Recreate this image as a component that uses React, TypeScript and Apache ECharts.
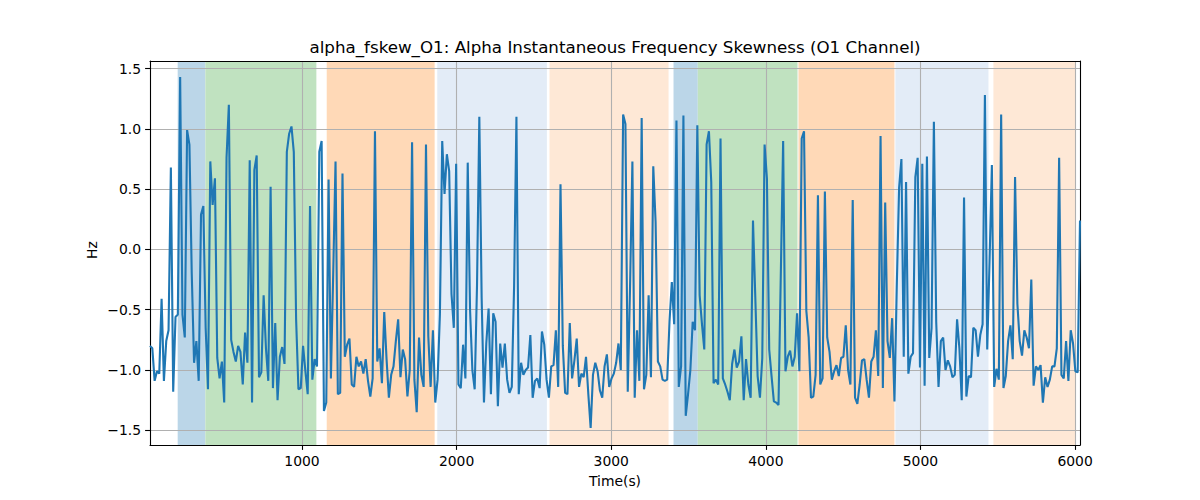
import React, { useEffect, useRef } from 'react';
import * as echarts from 'echarts';

// Sample grid: first sample time and spacing (seconds)
const startTime = 17;
const timeStep = 15;

// Alpha instantaneous frequency skewness, O1 channel (Hz)
const fskewValues: number[] = [
  -0.80, -0.82, -1.09, -1.01, -1.03, -0.41, -1.09, -0.76, -0.67, 0.68,
  -1.18, -0.56, -0.54, 1.43, -0.54, -0.73, 0.99, 0.87, -0.2, -0.94,
  -0.76, -1.09, 0.29, 0.36, -0.65, -1.16, 0.73, 0.37, 0.59, -0.90,
  -1.07, -0.93, -1.27, 0.76, 1.20, -0.75, -0.85, -0.93, -0.80, -0.85,
  -1.12, -0.69, -0.94, 0.74, -1.27, 0.66, 0.78, -1.06, -1.02, -0.38,
  -0.82, -1.09, 0.52, -1.15, -0.61, -1.25, -0.89, -0.81, -0.95, 0.81,
  0.96, 1.02, 0.81, -0.58, -1.16, -1.15, -0.80,
  -1.01, -1.20, 0.36, -1.08, -0.91, -0.97, 0.81, 0.90, -1.34, -1.27,
  0.58, -1.07, -0.2, 0.73, -1.20, -1.19, 0.63, -0.89, -0.79, -0.74,
  -1.12, -1.14, -0.89, -0.97, -0.93, -1.03, -0.91, -1.09, -1.22, -1.07,
  0.98, -0.93, -0.82, -1.11, -0.52, -0.91, -1.23, -1.04, -0.97, -0.76,
  -0.58, -1.06, -0.83, -0.91, -1.22, -1.0, 0.89, -1.08, -1.35, -0.73,
  -1.04, -1.14, 0.87, -0.72, -1.14, -0.67, -1.27, -1.08, -0.54, 0.90,
  0.46, 0.79, 0.65, -0.37, -0.65, 0.71, -1.12, -1.15, -0.79,
  -1.07, 0.72, -0.5, -1.0, -1.16, -0.3, 1.10, -0.4, -1.27, -0.78,
  -0.49, -1.20, -0.53, -0.60, -1.30, -0.78, -0.98, -0.78, -1.08, -1.19,
  -1.14, -0.3, 1.10, -1.20, -0.94, -1.04, -1.0, -0.98, -0.71, -1.23,
  -1.09, -1.07, -1.15, -0.68, -0.79, -1.08, -1.23, -0.97, -0.96, -0.67,
  -1.14, 0.54, -0.8, -1.19, -1.20, -0.61, -1.07, -0.92, -0.74, -1.14,
  -1.03, -1.06, -0.89, -1.2, -1.48, -1.04, -0.94, -1.01, -1.17, -1.23,
  -0.97, -0.87, -1.14, -1.07, -1.03, -0.94, -0.78,
  -1.0, 1.12, 1.04, -1.18, -0.3, 0.73, -1.23, -0.67, -1.09, 1.09,
  -1.16, -1.04, -0.38, -1.06, 0.69, 0.23, -0.93, -0.97, -1.08, -1.09,
  -1.08, -0.6, -0.27, -0.62, 1.07, -1.14, -0.97, 1.11, -1.38, -1.2,
  -1.0, -0.60, -0.67, 1.03, -0.38, -0.62, -0.83, 0.87, 0.98, 0.56,
  -1.11, -1.08, -1.12, 0.92, -1.07, -1.12, -1.18, -1.25, -0.95, -0.83,
  -0.98, -0.93, -0.72, -1.25, -0.91, -1.12, -1.23, 0.24, -0.4, -1.05,
  -1.23, -0.9, 0.87, 0.59, -0.83, -1.05, -1.26,
  -1.27, -1.29, -0.2, 0.90, -1.01, -0.89, -0.84, -0.97, -0.89, -0.53,
  -1.01, 0.92, 0.98, -0.51, -0.73, -1.23, -1.22, -1.04, 0.45, -1.12,
  -1.07, 0.48, -0.73, -0.85, -1.08, -1.01, -0.96, -1.05, -0.90, -0.89,
  -0.63, -1.0, -1.12, 0.41, -1.23, -1.28, -1.12, -0.92, -0.91, -1.08,
  -1.23, -0.93, -0.89, -0.67, -1.05, 0.94, -1.15, 0.39, -0.76, -0.90,
  -0.57, -1.26, -0.3, 0.51, 0.75, -0.89, 0.56, -1.03, -0.89, -0.86,
  0.60, 0.76, -0.98, 0.71, -1.13, 0.77, -0.90,
  -0.65, 1.06, -0.6, -1.14, -0.76, -0.73, -1.0, -0.92, -0.97, -1.06,
  -1.04, -0.58, -0.82, -1.25, 0.43, -1.22, -1.05, -1.06, -0.65, -0.67,
  -0.89, -0.71, -0.62, 1.28, -0.83, -0.1, 0.70, -1.14, -0.99, -1.08,
  1.12, -1.15, -1.05, -0.76, -0.63, -0.91, 0.60, -0.45, -0.76, -0.88,
  -0.67, -0.73, -0.82, -0.25, -1.13, -0.97, -1.0, -0.96, -1.27, -1.06,
  -1.14, -1.08, -0.97, -0.97, -0.82, 0.76, -1.04, -1.07, -0.76, -1.09,
  -0.67, -0.78, -1.01, -1.02, 0.24,
];

// Shaded intervals (seconds) and their kind
const spanStarts = [196, 375, 1160, 1875, 2601, 3403, 3560, 4211, 4838, 5472];
const spanEnds = [375, 1093, 1858, 2584, 3371, 3560, 4205, 4832, 5440, 6006];
const spanKinds = ['blue', 'green', 'orange', 'lightblue', 'lightorange', 'blue', 'green', 'orange', 'lightblue', 'lightorange'];

const xTicks = [1000, 2000, 3000, 4000, 5000, 6000];
const yTicks = [-1.5, -1.0, -0.5, 0.0, 0.5, 1.0, 1.5];

const titleText = 'alpha_fskew_O1: Alpha Instantaneous Frequency Skewness (O1 Channel)';
const xLabel = 'Time(s)';
const yLabel = 'Hz';

const kindColors: Record<string, string> = {
  blue: '#bbd6e8',
  green: '#c0e2c0',
  orange: '#ffd9b7',
  lightblue: '#e3ecf7',
  lightorange: '#fee8d6',
};

const FONT = 'DejaVu Sans';

export default function App() {
  const ref = useRef<HTMLDivElement>(null);

  useEffect(() => {
    if (!ref.current) return;
    const chart = echarts.init(ref.current, undefined, { renderer: 'svg' });

    const points = fskewValues.map((v, i) => [startTime + timeStep * i, v]);
    const xMin = startTime;
    const xMax = startTime + timeStep * (fskewValues.length - 1);
    const yMin = -1.622;
    const yMax = 1.563;

    const areas = spanStarts.map((s, i) => [
      { xAxis: s, itemStyle: { color: kindColors[spanKinds[i]], opacity: 1 } },
      { xAxis: spanEnds[i] },
    ]);

    const axisLineStyle = { color: '#000', width: 1.1 };

    const option: any = {
      animation: false,
      backgroundColor: '#ffffff',
      grid: { left: 150, right: 120, top: 61, bottom: 55, containLabel: false },
      xAxis: [
        {
          type: 'value',
          min: xMin,
          max: xMax,
          position: 'bottom',
          z: 3,
          axisLine: { show: true, onZero: false, lineStyle: axisLineStyle },
          axisTick: { show: true, length: 4.9, lineStyle: axisLineStyle, customValues: xTicks },
          axisLabel: {
            customValues: xTicks,
            margin: 9,
            fontSize: 13.9,
            color: '#000',
            fontFamily: FONT,
            formatter: (v: number) => String(Math.round(v)),
          },
          splitLine: { show: true, lineStyle: { color: '#b0b0b0', width: 1.1 } },
        },
        {
          type: 'value',
          min: xMin,
          max: xMax,
          position: 'top',
          z: 3,
          axisLine: { show: true, onZero: false, lineStyle: axisLineStyle },
          axisTick: { show: false },
          axisLabel: { show: false },
          splitLine: { show: false },
        },
      ],
      yAxis: [
        {
          type: 'value',
          min: yMin,
          max: yMax,
          position: 'left',
          z: 3,
          axisLine: { show: true, onZero: false, lineStyle: axisLineStyle },
          axisTick: { show: true, length: 4.9, lineStyle: axisLineStyle, customValues: yTicks },
          axisLabel: {
            customValues: yTicks,
            margin: 9,
            fontSize: 13.9,
            color: '#000',
            fontFamily: FONT,
            formatter: (v: number) => v.toFixed(1).replace('-', '\u2212'),
          },
          splitLine: { show: true, lineStyle: { color: '#b0b0b0', width: 1.1 } },
        },
        {
          type: 'value',
          min: yMin,
          max: yMax,
          position: 'right',
          z: 3,
          axisLine: { show: true, onZero: false, lineStyle: axisLineStyle },
          axisTick: { show: false },
          axisLabel: { show: false },
          splitLine: { show: false },
        },
      ],
      series: [
        {
          type: 'line',
          xAxisIndex: 0,
          yAxisIndex: 0,
          data: [],
          z: 1,
          silent: true,
          markArea: { silent: true, data: areas },
        },
        {
          type: 'line',
          xAxisIndex: 0,
          yAxisIndex: 0,
          data: points,
          showSymbol: false,
          symbol: 'none',
          z: 5,
          lineStyle: { color: '#1f77b4', width: 2.1 },
          itemStyle: { color: '#1f77b4' },
          clip: true,
        },
      ],
      graphic: [
        {
          type: 'text',
          x: 615,
          y: 47,
          style: {
            text: titleText,
            fontSize: 16.7,
            fontFamily: FONT,
            fill: '#000',
            align: 'center',
            verticalAlign: 'middle',
            textAlign: 'center',
            textVerticalAlign: 'middle',
          },
        },
        {
          type: 'text',
          x: 615,
          y: 481,
          style: {
            text: xLabel,
            fontSize: 13.9,
            fontFamily: FONT,
            fill: '#000',
            align: 'center',
            verticalAlign: 'middle',
            textAlign: 'center',
            textVerticalAlign: 'middle',
          },
        },
        {
          type: 'text',
          x: 92,
          y: 250,
          rotation: Math.PI / 2,
          style: {
            text: yLabel,
            fontSize: 13.9,
            fontFamily: FONT,
            fill: '#000',
            align: 'center',
            verticalAlign: 'middle',
            textAlign: 'center',
            textVerticalAlign: 'middle',
          },
        },
      ],
    };

    chart.setOption(option);
    return () => {
      chart.dispose();
    };
  }, []);

  return (
    <div
      ref={ref}
      style={{ position: 'absolute', left: 0, top: 0, width: 1200, height: 500 }}
    />
  );
}
